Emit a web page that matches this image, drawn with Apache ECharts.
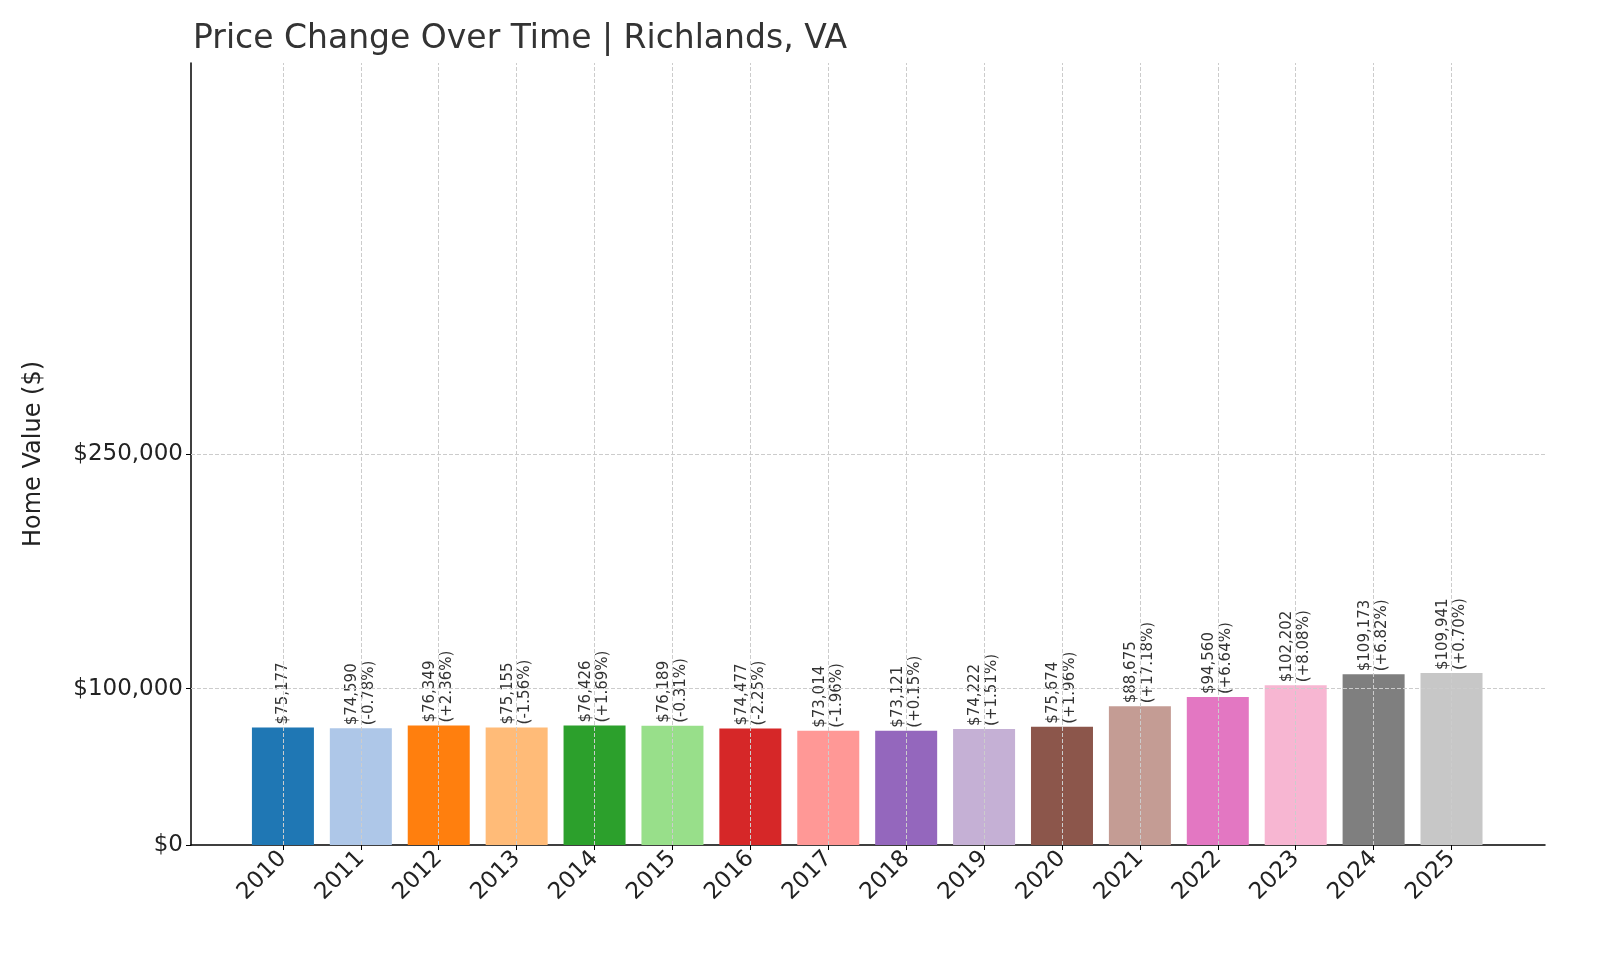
<!DOCTYPE html>
<html><head><meta charset="utf-8">
<script src="https://cdn.jsdelivr.net/npm/echarts@6/dist/echarts.min.js"></script>
<style>html,body{margin:0;background:#fff}#c{width:1600px;height:960px}</style></head>
<body><div id="c"></div>
<script>
const years=['2010','2011','2012','2013','2014','2015','2016','2017','2018','2019','2020','2021','2022','2023','2024','2025'];
const values=[75177,74590,76349,75155,76426,76189,74477,73014,73121,74222,75674,88675,94560,102202,109173,109941];
const changes=[null,'-0.78%','+2.36%','-1.56%','+1.69%','-0.31%','-2.25%','-1.96%','+0.15%','+1.51%','+1.96%','+17.18%','+6.64%','+8.08%','+6.82%','+0.70%'];
const colors=['#1f77b4','#aec7e8','#ff7f0e','#ffbb78','#2ca02c','#98df8a','#d62728','#ff9896','#9467bd','#c5b0d5','#8c564b','#c49c94','#e377c2','#f7b6d2','#7f7f7f','#c7c7c7'];
const yTicks=[0,100000,250000];
const fmt=v=>'$'+v.toLocaleString('en-US');
const chart=echarts.init(document.getElementById('c'));
chart.setOption({
 animation:false,
 title:{text:'Price Change Over Time | Richlands, VA',left:188,top:18,textStyle:{fontSize:33,fontWeight:'normal',color:'#333',fontFamily:'DejaVu Sans'}},
 grid:{left:191,right:55,top:63,bottom:115},
 xAxis:{type:'value',min:-1.18,max:16.2,splitLine:{show:false},
  axisLine:{show:true,onZero:false,lineStyle:{color:'#000',width:1.5}},
  axisTick:{show:true,customValues:years.map((_,i)=>i),lineStyle:{color:'#000'}},
  axisLabel:{customValues:years.map((_,i)=>i),formatter:v=>years[v],rotate:45,fontSize:23,color:'#222',fontFamily:'DejaVu Sans',margin:10}},
 yAxis:{type:'value',min:0,max:500000,name:'Home Value ($)',nameLocation:'middle',nameGap:145,
  nameTextStyle:{fontSize:24,color:'#222',fontFamily:'DejaVu Sans'},
  splitLine:{show:false},axisLine:{show:true,onZero:false,lineStyle:{color:'#000',width:1.5}},
  axisTick:{show:true,customValues:yTicks,lineStyle:{color:'#000'}},
  axisLabel:{customValues:yTicks,formatter:fmt,fontSize:23,color:'#222',fontFamily:'DejaVu Sans'}},
 series:[{type:'bar',barWidth:62,
  data:values.map((v,i)=>({value:[i,v],itemStyle:{color:colors[i]},
   label:{formatter:changes[i]?fmt(v)+'\n('+changes[i]+')':fmt(v)}})),
  label:{show:true,position:'top',rotate:90,align:'left',verticalAlign:'middle',distance:3,fontSize:15,lineHeight:17,color:'#333',fontFamily:'DejaVu Sans'},
  markLine:{silent:true,symbol:'none',label:{show:false},lineStyle:{type:'dashed',color:'#ccc',width:1},
   data:[...years.map((_,i)=>({xAxis:i})),{yAxis:100000},{yAxis:250000}]},
  z:3}]
});
</script></body></html>
